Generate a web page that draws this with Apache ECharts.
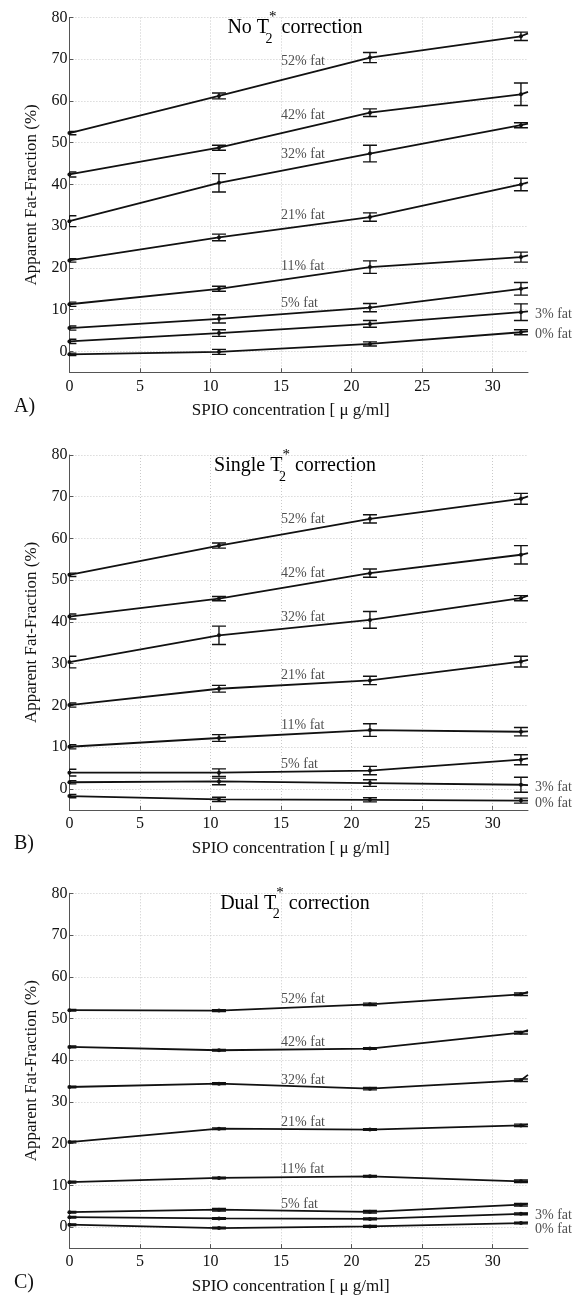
<!DOCTYPE html>
<html>
<head>
<meta charset="utf-8">
<script src="https://cdn.jsdelivr.net/npm/echarts@6/dist/echarts.min.js"></script>
<style>
html,body{margin:0;padding:0;background:#fff;}
#chart{width:573px;height:1297px;}
</style>
</head>
<body>
<div id="chart"></div>
<script>
// ---- data ----
const concentrations = [0, 10.6, 21.3, 32.0];   // SPIO concentration [µg/ml]
const lineEndX = 32.5;                           // lines continue to the axis end
const fatLabels = ['52% fat', '42% fat', '32% fat', '21% fat', '11% fat', '5% fat', '3% fat', '0% fat'];
const xTicks = [0, 5, 10, 15, 20, 25, 30];
const yTicks = [0, 10, 20, 30, 40, 50, 60, 70, 80];

// A) No T2* correction
const noCorrMean = [
  [52.3, 61.2, 70.4, 75.5],
  [42.4, 48.8, 57.2, 61.6],
  [31.2, 40.4, 47.4, 54.2],
  [21.8, 27.3, 32.2, 40.0],
  [11.3, 15.0, 20.2, 22.6],
  [5.6, 7.8, 10.5, 15.0],
  [2.4, 4.4, 6.6, 9.4],
  [-0.7, -0.1, 1.8, 4.6]
];
const noCorrErr = [
  [0.4, 0.7, 1.2, 1.0],
  [0.6, 0.6, 0.9, 2.7],
  [1.3, 2.2, 2.0, 0.6],
  [0.4, 0.8, 1.0, 1.5],
  [0.5, 0.6, 1.5, 1.2],
  [0.5, 1.0, 1.0, 1.5],
  [0.5, 0.8, 0.8, 2.0],
  [0.3, 0.6, 0.5, 0.6]
];
const noCorrEnd = [76.2, 62.2, 54.6, 40.5, 23.0, 15.3, 9.6, 4.8];

// B) Single T2* correction
const singleMean = [
  [51.3, 58.3, 64.7, 69.5],
  [41.3, 45.6, 51.7, 56.1],
  [30.4, 36.8, 40.5, 45.7],
  [20.1, 24.0, 26.0, 30.5],
  [10.1, 12.2, 14.1, 13.7],
  [3.9, 3.9, 4.4, 7.0],
  [1.6, 1.8, 1.4, 1.0],
  [-1.7, -2.5, -2.6, -2.8]
];
const singleErr = [
  [0.4, 0.6, 1.0, 1.3],
  [0.6, 0.5, 1.0, 2.2],
  [1.4, 2.2, 2.0, 0.6],
  [0.5, 0.8, 1.0, 1.3],
  [0.5, 0.8, 1.5, 1.0],
  [0.8, 0.9, 1.0, 1.2],
  [0.4, 0.8, 0.8, 1.8],
  [0.4, 0.5, 0.5, 0.6]
];
const singleEnd = [70.1, 56.5, 46.3, 30.9, 13.8, 7.3, 0.9, -2.8];

// C) Dual T2* correction
const dualMean = [
  [52.0, 51.9, 53.4, 55.8],
  [43.2, 42.4, 42.8, 46.6],
  [33.6, 34.4, 33.2, 35.2],
  [20.4, 23.6, 23.4, 24.4],
  [10.8, 11.8, 12.2, 11.0],
  [3.6, 4.2, 3.7, 5.4],
  [2.4, 2.1, 2.0, 3.2],
  [0.6, -0.2, 0.2, 1.0]
];
const dualErr = [
  [0.2, 0.2, 0.3, 0.3],
  [0.2, 0.2, 0.2, 0.3],
  [0.2, 0.2, 0.3, 0.3],
  [0.2, 0.2, 0.2, 0.3],
  [0.2, 0.2, 0.2, 0.3],
  [0.2, 0.3, 0.3, 0.3],
  [0.2, 0.2, 0.2, 0.2],
  [0.2, 0.2, 0.2, 0.2]
];
const dualEnd = [56.4, 47.2, 36.5, 24.6, 11.0, 5.6, 3.3, 1.1];

const panelTitles = ['No T', 'Single T', 'Dual T'];
const panelLetters = ['A)', 'B)', 'C)'];
const xName = 'SPIO concentration [ μ g/ml]';
const yName = 'Apparent Fat-Fraction (%)';

// ---- layout / style ----
const FONT = '"Liberation Serif", "Times New Roman", serif';
const INK = '#111';
const GRID_LEFT = 69.4, GRID_W = 458.6, GRID_H = 354.8;
const GRID_TOPS = [17.5, 455, 893.3];
const labelAnchorX = 15.0, labelRefX = 18.3;
const endLabelDy = [[3, 3], [2, 3], [2, 7]];

const panels = [
  {mean: noCorrMean, err: noCorrErr, end: noCorrEnd},
  {mean: singleMean, err: singleErr, end: singleEnd},
  {mean: dualMean, err: dualErr, end: dualEnd}
];

function interp(xs, ys, x) {
  for (let i = 0; i < xs.length - 1; i++) {
    if (x >= xs[i] && x <= xs[i + 1]) {
      const t = (x - xs[i]) / (xs[i + 1] - xs[i]);
      return ys[i] + t * (ys[i + 1] - ys[i]);
    }
  }
  return ys[ys.length - 1];
}

const chart = echarts.init(document.getElementById('chart'), null, {renderer: 'canvas'});

const grids = [], xAxes = [], yAxes = [], series = [], graphics = [];

panels.forEach((p, pi) => {
  const top = GRID_TOPS[pi];
  grids.push({left: GRID_LEFT, top: top, width: GRID_W, height: GRID_H, containLabel: false});
  xAxes.push({
    type: 'value', gridIndex: pi, min: 0, max: lineEndX, interval: 5,
    name: xName, nameLocation: 'middle', nameGap: 30,
    nameTextStyle: {fontFamily: FONT, fontSize: 17, color: INK, padding: [0, 16, 0, 0]},
    axisLine: {show: true, onZero: false, lineStyle: {color: '#555', width: 1}},
    axisTick: {show: true, inside: true, length: 4, lineStyle: {color: '#555'}},
    axisLabel: {fontFamily: FONT, fontSize: 16, color: INK, margin: 6, showMaxLabel: false,
      formatter: v => (xTicks.indexOf(v) >= 0 ? String(v) : '')},
    splitLine: {show: true, showMaxLine: false, lineStyle: {color: '#c9c9c9', type: [1, 2], width: 1}}
  });
  yAxes.push({
    type: 'value', gridIndex: pi, min: -5, max: 80, minInterval: 10, maxInterval: 10,
    name: yName, nameLocation: 'middle', nameGap: 22, nameRotate: 90,
    nameTextStyle: {fontFamily: FONT, fontSize: 17, color: INK},
    axisLine: {show: true, onZero: false, lineStyle: {color: '#555', width: 1}},
    axisTick: {show: true, inside: true, length: 4, lineStyle: {color: '#555'}},
    axisLabel: {fontFamily: FONT, fontSize: 16, color: INK, margin: 2, showMinLabel: false,
      formatter: v => (yTicks.indexOf(v) >= 0 ? String(v) : '')},
    splitLine: {show: true, showMinLine: false, lineStyle: {color: '#c9c9c9', type: [1, 2], width: 1}}
  });

  // lines
  p.mean.forEach((m, k) => {
    const data = concentrations.map((c, i) => [c, m[i]]);
    data.push([lineEndX, p.end[k]]);
    series.push({
      type: 'line', xAxisIndex: pi, yAxisIndex: pi, data: data,
      symbol: 'circle', symbolSize: (v, prm) => (prm.dataIndex < concentrations.length ? 4 : 0),
      showSymbol: true, clip: true, silent: true, z: 3,
      lineStyle: {color: INK, width: 1.8},
      itemStyle: {color: INK}
    });
  });

  // error bars (clipped to the plot area like the reference)
  const ebData = [];
  p.mean.forEach((m, k) => {
    m.forEach((v, i) => ebData.push([concentrations[i], v, p.err[k][i]]));
  });
  series.push({
    type: 'custom', xAxisIndex: pi, yAxisIndex: pi, data: ebData, clip: true, silent: true, z: 4,
    renderItem: (params, api) => {
      const cs = params.coordSys;
      const x = api.value(0), y = api.value(1), e = api.value(2);
      const lo = api.coord([x, y - e]), hi = api.coord([x, y + e]);
      const hw = 7;
      const xl = Math.max(cs.x, lo[0] - hw), xr = Math.min(cs.x + cs.width, lo[0] + hw);
      const st = {stroke: INK, lineWidth: 1.4};
      return {
        type: 'group',
        children: [
          {type: 'line', shape: {x1: lo[0], y1: lo[1], x2: hi[0], y2: hi[1]}, style: st},
          {type: 'line', shape: {x1: xl, y1: lo[1], x2: xr, y2: lo[1]}, style: st},
          {type: 'line', shape: {x1: xl, y1: hi[1], x2: xr, y2: hi[1]}, style: st}
        ]
      };
    }
  });

  // labels
  const lblData = [];
  p.mean.forEach((m, k) => {
    const xs = concentrations.concat([lineEndX]);
    const ys = m.concat([p.end[k]]);
    if (k < 6) {
      lblData.push({
        value: [labelAnchorX, interp(xs, ys, labelRefX)], name: fatLabels[k],
        label: {position: [0, 0], align: 'left', verticalAlign: 'bottom'}
      });
    } else {
      lblData.push({
        value: [lineEndX, p.end[k]], name: fatLabels[k],
        label: {position: [7, endLabelDy[pi][k - 6]], align: 'left', verticalAlign: 'middle'}
      });
    }
  });
  series.push({
    type: 'scatter', xAxisIndex: pi, yAxisIndex: pi, data: lblData, symbolSize: 0,
    clip: false, silent: true, z: 5,
    label: {show: true, formatter: prm => prm.name, fontFamily: FONT, fontSize: 14, color: '#222'}
  });

  // title with T2* (stacked sub/superscript)
  const titleY = [28, 466, 903.3][pi];
  graphics.push({
    type: 'text', x: 295, y: titleY, z: 10, silent: true,
    style: {
      text: '{t|' + panelTitles[pi] + '}{s|2}{p|*}{t| correction}',
      align: 'center', verticalAlign: 'middle',
      rich: {
        t: {fontFamily: FONT, fontSize: 20, color: INK, lineHeight: 36},
        s: {fontFamily: FONT, fontSize: 14, color: INK, lineHeight: 12, verticalAlign: 'bottom', width: 0},
        p: {fontFamily: FONT, fontSize: 15, color: INK, lineHeight: 16, verticalAlign: 'top'}
      }
    }
  });
  graphics.push({
    type: 'text', x: 14, y: top + GRID_H + 34.3, z: 10, silent: true,
    style: {text: panelLetters[pi], fontFamily: FONT, fontSize: 20, fill: INK, align: 'left', verticalAlign: 'middle'}
  });
});

chart.setOption({
  animation: false,
  backgroundColor: '#fff',
  grid: grids,
  xAxis: xAxes,
  yAxis: yAxes,
  series: series,
  graphic: graphics
});
</script>
</body>
</html>
